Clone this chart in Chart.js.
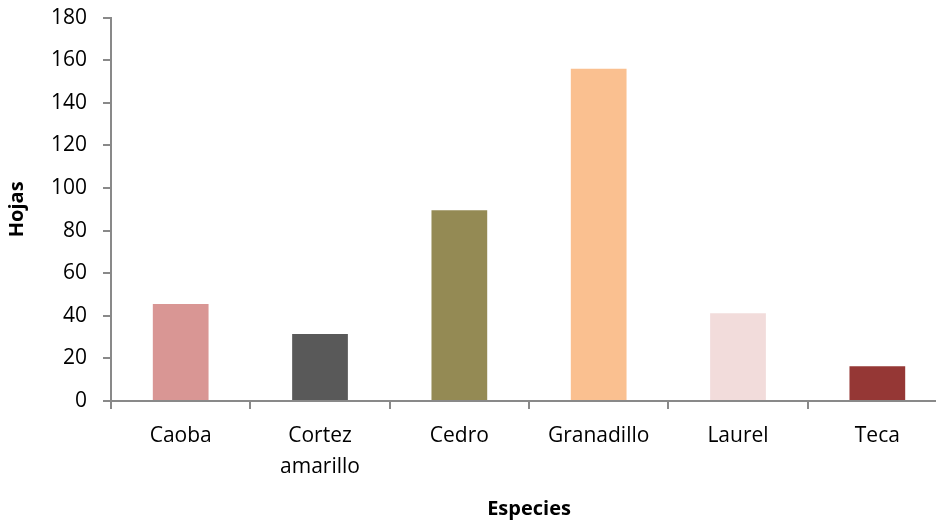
<!DOCTYPE html>
<html>
<head>
<meta charset="utf-8">
<script src="https://cdn.jsdelivr.net/npm/chart.js@4"></script>
<style>
  html, body { margin: 0; padding: 0; background: #fff; overflow: hidden; }
  #wrap { position: relative; width: 949px; height: 540px; margin-top: -11px; }
</style>
</head>
<body>
<div id="wrap"><canvas id="chart"></canvas></div>
<script>
  "use strict";

  const species = ["Caoba", ["Cortez", "amarillo"], "Cedro", "Granadillo", "Laurel", "Teca"];
  const leaves = [45.5, 31.5, 89.5, 156, 41.2, 16.3];
  const barColors = ["#D99694", "#595959", "#948A54", "#FAC090", "#F2DCDB", "#953735"];

  const axisColor = "#898989";
  const fontFamily = "'Open Sans', 'Liberation Sans', sans-serif";

  const ctx = document.getElementById("chart").getContext("2d");
  new Chart(ctx, {
    type: "bar",
    data: {
      labels: species,
      datasets: [
        {
          data: leaves,
          backgroundColor: barColors,
          borderWidth: 0,
          barPercentage: 0.4,
          categoryPercentage: 1,
        },
      ],
    },
    options: {
      responsive: true,
      maintainAspectRatio: false,
      animation: false,
      layout: { padding: { top: 4, left: 5, right: 2, bottom: 8 } },
      plugins: { legend: { display: false }, tooltip: { enabled: false } },
      scales: {
        x: {
          grid: {
            drawOnChartArea: false,
            drawTicks: true,
            tickLength: 8,
            color: axisColor,
            lineWidth: 2,
          },
          border: { color: axisColor, width: 2 },
          ticks: {
            color: "#000",
            padding: 11,
            maxRotation: 0,
            font: { family: fontFamily, size: 21, lineHeight: 1.5 },
          },
          title: {
            display: true,
            text: "Especies",
            color: "#000",
            padding: { top: 3, bottom: 0 },
            font: { family: fontFamily, size: 20, weight: "bold" },
          },
        },
        y: {
          min: 0,
          max: 180,
          grid: {
            drawOnChartArea: false,
            drawTicks: true,
            tickLength: 8,
            color: axisColor,
            lineWidth: 2,
          },
          border: { color: axisColor, width: 2 },
          ticks: {
            stepSize: 20,
            color: "#000",
            padding: 16,
            font: { family: fontFamily, size: 21 },
          },
          title: {
            display: true,
            text: "Hojas",
            color: "#000",
            padding: { top: 0, bottom: 6 },
            font: { family: fontFamily, size: 20, weight: "bold" },
          },
        },
      },
    },
  });
</script>
</body>
</html>
